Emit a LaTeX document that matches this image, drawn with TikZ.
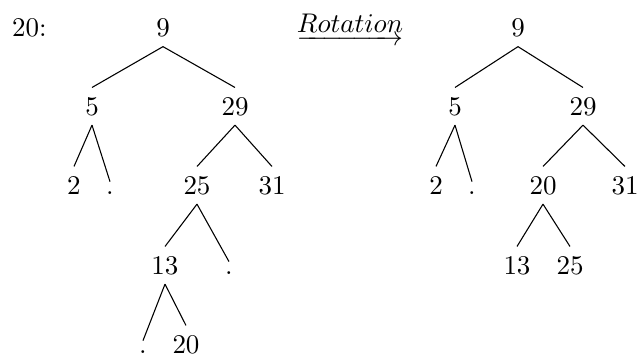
\documentclass[tikz,border=0pt]{standalone}
\usepackage{amsmath}
\begin{document}
\begin{tikzpicture}[x=0.37037pt,y=-0.37037pt,
  tn/.style={anchor=base},
  edge/.style={draw, line width=0.4pt}]
\useasboundingbox (0,0) rectangle (638,359);
% label
\node[tn] (lbl) at (29.5,36.5) {20:};
% left tree
\node[tn] (a9)  at (163,36.5) {9};
\node[tn] (a5)  at (92,115) {5};
\node[tn] (a29) at (235,115) {29};
\node[tn] (a2)  at (74,194) {2};
\node[tn] (ad1) at (110,194) {.};
\node[tn] (a25) at (197,194) {25};
\node[tn] (a31) at (272,194) {31};
\node[tn] (a13) at (165,274) {13};
\node[tn] (ad2) at (229,274) {.};
\node[tn] (ad3) at (143,353) {.};
\node[tn] (a20) at (186,353) {20};
\path[edge] (a9.south) -- (a5.north);
\path[edge] (a9.south) -- (a29.north);
\path[edge] (a5.south) -- (a2.north);
\path[edge] (a5.south) -- (ad1.north);
\path[edge] (a29.south) -- (a25.north);
\path[edge] (a29.south) -- (a31.north);
\path[edge] (a25.south) -- (a13.north);
\path[edge] (a25.south) -- (ad2.north);
\path[edge] (a13.south) -- (ad3.north);
\path[edge] (a13.south) -- (a20.north);
% arrow
\node[tn] (arr) at (350,32) {$\underrightarrow{Rotation}$};
% right tree
\node[tn] (b9)  at (518,36.5) {9};
\node[tn] (b5)  at (455,115) {5};
\node[tn] (b29) at (583,115) {29};
\node[tn] (b2)  at (436,194) {2};
\node[tn] (bd1) at (472,194) {.};
\node[tn] (b20) at (543,194) {20};
\node[tn] (b31) at (625,194) {31};
\node[tn] (b13) at (517,274) {13};
\node[tn] (b25) at (570,274) {25};
\path[edge] (b9.south) -- (b5.north);
\path[edge] (b9.south) -- (b29.north);
\path[edge] (b5.south) -- (b2.north);
\path[edge] (b5.south) -- (bd1.north);
\path[edge] (b29.south) -- (b20.north);
\path[edge] (b29.south) -- (b31.north);
\path[edge] (b20.south) -- (b13.north);
\path[edge] (b20.south) -- (b25.north);
\end{tikzpicture}
\end{document}
